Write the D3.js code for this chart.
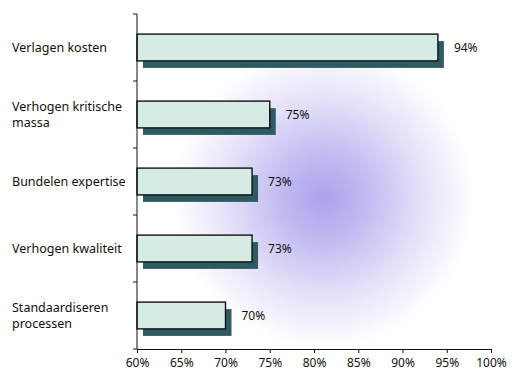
<!DOCTYPE html>
<html>
<head>
<meta charset="utf-8">
<script src="https://cdn.jsdelivr.net/npm/d3@7"></script>
<style>
  body { margin: 0; background: #fff; }
  text { font-family: "Noto Sans", "Open Sans", sans-serif; fill: #111; }
</style>
</head>
<body>
<div id="chart"></div>
<script>
const categories = [
  ["Verlagen kosten"],
  ["Verhogen kritische", "massa"],
  ["Bundelen expertise"],
  ["Verhogen kwaliteit"],
  ["Standaardiseren", "processen"]
];
const values = [94, 75, 73, 73, 70];
const xTicks = [60, 65, 70, 75, 80, 85, 90, 95, 100];

const width = 512, height = 376;
const margin = { top: 14, right: 21, bottom: 27, left: 137 };

const svg = d3.select("#chart").append("svg")
  .attr("width", width)
  .attr("height", height);

// soft purple glow behind the plot
const defs = svg.append("defs");
const grad = defs.append("radialGradient")
  .attr("id", "glow")
  .attr("gradientUnits", "userSpaceOnUse")
  .attr("cx", 324).attr("cy", 198).attr("r", 150);
grad.append("stop").attr("offset", "0%").attr("stop-color", "#aba3ec");
grad.append("stop").attr("offset", "30%").attr("stop-color", "#c2bcf1");
grad.append("stop").attr("offset", "65%").attr("stop-color", "#e4e1f9");
grad.append("stop").attr("offset", "100%").attr("stop-color", "#ffffff");
svg.append("rect")
  .attr("x", 0).attr("y", 0)
  .attr("width", width).attr("height", height)
  .attr("fill", "url(#glow)");

const x = d3.scaleLinear()
  .domain([60, 100])
  .range([margin.left, width - margin.right]);

const y = d3.scaleBand()
  .domain(d3.range(categories.length))
  .range([margin.top, height - margin.bottom])
  .paddingInner(0.6)
  .paddingOuter(0.3);

const shadowDx = 6, shadowDy = 7;

// shadows
svg.selectAll("rect.shadow")
  .data(values)
  .join("rect")
  .attr("class", "shadow")
  .attr("x", x(60) + shadowDx)
  .attr("y", (d, i) => y(i) + shadowDy)
  .attr("width", d => x(d) - x(60))
  .attr("height", y.bandwidth())
  .attr("fill", "#2e5a61");

// bars
svg.selectAll("rect.bar")
  .data(values)
  .join("rect")
  .attr("class", "bar")
  .attr("x", x(60))
  .attr("y", (d, i) => y(i))
  .attr("width", d => x(d) - x(60))
  .attr("height", y.bandwidth())
  .attr("fill", "#d5ebe4")
  .attr("stroke", "#111")
  .attr("stroke-width", 1.4);

// value labels
svg.selectAll("text.value")
  .data(values)
  .join("text")
  .attr("class", "value")
  .attr("x", d => x(d) + 16)
  .attr("y", (d, i) => y(i) + y.bandwidth() / 2)
  .attr("dy", "0.35em")
  .style("font-size", "12px")
  .text(d => d + "%");

// category labels
const lab = svg.selectAll("text.cat")
  .data(categories)
  .join("text")
  .attr("class", "cat")
  .attr("x", 12)
  .attr("y", (d, i) => y(i) + y.bandwidth() / 2)
  .style("font-size", "12.5px");
lab.each(function (lines) {
  const t = d3.select(this);
  const off = -(lines.length - 1) * 0.65;
  lines.forEach((s, k) => {
    t.append("tspan")
      .attr("x", 12)
      .attr("dy", k === 0 ? (off + 0.35) + "em" : "1.3em")
      .text(s);
  });
});

// x axis
const xAxis = svg.append("g")
  .attr("transform", "translate(0," + (height - margin.bottom) + ")")
  .call(d3.axisBottom(x).tickValues(xTicks).tickSize(4).tickPadding(5)
    .tickFormat(d => d + "%"));
xAxis.selectAll("text").style("font-size", "12px").attr("fill", "#111");
xAxis.selectAll("line, path").attr("stroke", "#111");

// y axis with ticks at band boundaries
const yAxisG = svg.append("g");
yAxisG.append("line")
  .attr("x1", margin.left).attr("x2", margin.left)
  .attr("y1", margin.top).attr("y2", height - margin.bottom)
  .attr("stroke", "#111");
const bounds = d3.range(categories.length + 1).map(i => margin.top + i * (height - margin.top - margin.bottom) / categories.length);
yAxisG.selectAll("line.tick")
  .data(bounds)
  .join("line")
  .attr("class", "tick")
  .attr("x1", margin.left - 4).attr("x2", margin.left)
  .attr("y1", d => d).attr("y2", d => d)
  .attr("stroke", "#111");
</script>
</body>
</html>
